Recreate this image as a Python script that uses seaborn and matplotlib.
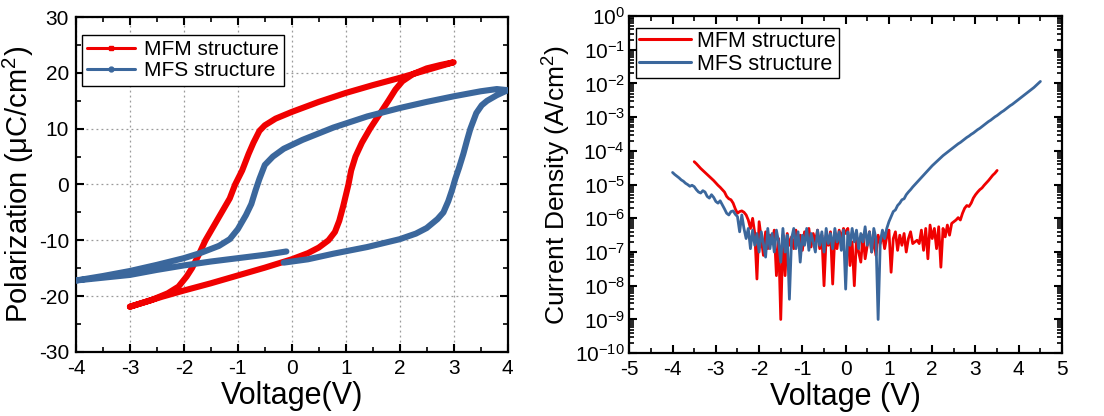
import numpy as np
import pandas as pd
import matplotlib
matplotlib.use("Agg")
import matplotlib.pyplot as plt
from matplotlib.lines import Line2D
from matplotlib.ticker import MultipleLocator, LogLocator, NullFormatter, LogFormatterMathtext
import seaborn as sns

# ---------------- data: P-E hysteresis loops ----------------
mfm_v = [-3.0, -2.7, -2.4, -2.0, -1.5, -1.0, -0.5, 0.0, 0.3, 0.5, 0.68, 0.8, 0.88, 0.95, 1.0, 1.05,
         1.1, 1.18, 1.3, 1.45, 1.62, 1.79, 1.92, 2.05, 2.25, 2.5, 2.75, 3.0,
         2.5, 2.0, 1.5, 1.0, 0.5, 0.0, -0.3, -0.5, -0.6, -0.71, -0.8, -0.92, -1.05, -1.15, -1.3,
         -1.45, -1.6, -1.72, -1.85, -1.95, -2.1, -2.3, -2.6, -3.0]
mfm_p = [-21.9, -21.0, -20.1, -19.0, -17.7, -16.3, -14.9, -13.4, -12.3, -11.3, -10.0, -8.5, -6.5, -4.0, -2.0, 0.0,
         2.5, 5.0, 7.5, 10.0, 12.5, 15.0, 17.0, 18.5, 19.8, 20.8, 21.4, 21.9,
         20.5, 19.1, 17.8, 16.4, 14.8, 13.0, 11.8, 10.6, 9.6, 7.5, 5.5, 2.5, 0.0, -2.5, -5.0,
         -7.5, -10.0, -12.5, -15.0, -16.5, -18.3, -19.5, -20.7, -21.9]

mfs_v = [-0.15, 0.3, 0.77, 1.4, 2.0, 2.3, 2.5, 2.7, 2.81, 2.9, 2.97, 3.03, 3.1, 3.18, 3.25, 3.31,
         3.42, 3.52, 3.62, 3.8, 4.0,
         3.8, 3.5, 3.0, 2.5, 2.0, 1.4, 0.77, 0.2, -0.15, -0.35, -0.5, -0.6, -0.67, -0.75, -0.85,
         -1.0, -1.15, -1.35, -1.7, -2.0, -2.5, -3.0, -3.5, -4.0,
         -3.5, -3.0, -2.5, -2.0, -1.5, -1.0, -0.5, -0.1]
mfs_p = [-14.0, -13.4, -12.4, -11.2, -9.8, -8.8, -7.8, -6.2, -5.0, -3.0, -1.0, 1.0, 3.0, 5.5, 8.0, 10.0,
         12.8, 14.2, 15.0, 16.0, 16.9,
         17.1, 16.7, 15.8, 14.8, 13.7, 12.2, 10.2, 8.0, 6.4, 5.0, 3.5, 1.0, -1.0, -3.5, -5.5,
         -8.0, -9.8, -11.0, -12.3, -13.2, -14.4, -15.5, -16.4, -17.2,
         -16.7, -16.2, -15.3, -14.5, -13.8, -13.2, -12.6, -12.0]

# ---------------- data: J-V leakage (log10 of A/cm^2), 0.05 V steps ----------------
mfm_jv_start, mfm_jv_stop = -3.5, 3.5
mfm_logj = [-4.32, -4.38, -4.45, -4.52, -4.58, -4.64, -4.70, -4.76, -4.82, -4.88,
            -4.95, -5.02, -5.08, -5.15, -5.22, -5.35, -5.42, -5.45, -5.55, -5.72,
            -5.85, -5.80, -5.78, -5.82, -5.90, -6.05, -6.30, -6.00, -6.45, -7.80,
            -6.10, -6.60, -7.10, -6.40, -6.90, -6.50, -6.75, -6.35, -7.70, -6.60,
            -9.00, -6.50, -7.70, -6.45, -6.80, -6.55, -6.90, -6.35, -6.70, -6.50,
            -6.95, -6.40, -6.60, -6.30, -6.85, -6.45, -6.70, -6.35, -6.90, -6.50,
            -8.00, -6.55, -6.80, -6.40, -7.95, -6.50, -6.90, -6.35, -6.60, -6.30,
            -6.45, -6.30, -7.40, -6.70, -8.00, -6.60, -7.00, -7.30, -6.50, -7.20,
            -6.80, -6.40, -7.00, -6.60, -7.10, -6.50, -6.75, -6.45, -6.90, -6.55,
            -6.35, -7.60, -6.60, -6.40, -6.95, -6.50, -6.80, -6.45, -7.00, -6.60,
            -6.40, -6.75, -6.70, -6.65, -6.75, -6.35, -6.95, -6.30, -7.20, -6.20,
            -6.60, -6.30, -6.90, -6.25, -7.45, -6.30, -6.55, -6.20, -6.50, -6.15,
            -6.10, -6.05, -5.98, -6.05, -5.85, -5.70, -5.62, -5.65, -5.55, -5.40,
            -5.30, -5.22, -5.15, -5.10, -5.02, -4.95, -4.88, -4.80, -4.72, -4.66,
            -4.58]

mfs_jv_start, mfs_jv_stop = -4.0, 4.5
mfs_logj = [-4.64, -4.70, -4.75, -4.80, -4.86, -4.90, -4.96, -5.00, -5.05, -5.02,
            -5.06, -5.15, -5.22, -5.25, -5.18, -5.22, -5.35, -5.40, -5.30, -5.38,
            -5.50, -5.55, -5.48, -5.60, -5.72, -5.85, -5.90, -5.80, -5.78, -5.88,
            -5.95,
            -6.40, -5.90, -6.30, -6.60, -6.30, -6.90, -6.35, -6.80, -6.45, -7.00,
            -6.40, -6.75, -7.15, -6.30, -6.90, -6.45, -7.00, -6.35, -6.70, -7.30,
            -6.30, -7.00, -6.50, -8.40, -6.60, -6.30, -6.90, -6.40, -7.30, -6.50,
            -6.80, -6.30, -6.95, -6.45, -6.70, -7.00, -6.35, -6.80, -6.40, -7.00,
            -6.30, -6.75, -6.45, -6.90, -6.30, -6.70, -6.40, -6.95, -6.35, -8.10,
            -6.40, -6.80, -6.30, -6.70, -6.35, -6.90, -6.45, -6.70, -6.25, -6.80,
            -6.40, -7.00, -6.30, -6.60, -9.00, -6.70, -6.35, -6.60, -6.30,
            -6.10, -5.95, -5.80, -5.75, -5.62, -5.55, -5.45, -5.42, -5.30, -5.22,
            -5.15, -5.07, -5.00, -4.93, -4.86, -4.79, -4.72, -4.65, -4.58, -4.51,
            -4.44, -4.38, -4.32, -4.26, -4.20, -4.14, -4.09, -4.04, -3.99, -3.94,
            -3.89, -3.84, -3.79, -3.75, -3.70, -3.65, -3.60, -3.56, -3.51, -3.47,
            -3.42, -3.37, -3.33, -3.28, -3.23, -3.18, -3.13, -3.09, -3.04, -2.99,
            -2.95, -2.90, -2.85, -2.81, -2.76, -2.71, -2.66, -2.62, -2.57, -2.52,
            -2.47, -2.42, -2.37, -2.32, -2.27, -2.22, -2.17, -2.12, -2.06, -2.00,
            -1.94]

labels = ["MFM structure", "MFS structure"]
RED = "#F00000"
BLUE = "#3B679C"

# ---------------- style ----------------
sns.set_style("ticks")
plt.rcParams["font.family"] = ["Liberation Sans", "DejaVu Sans"]
plt.rcParams["mathtext.fontset"] = "custom"
plt.rcParams["mathtext.rm"] = "Liberation Sans"
plt.rcParams["mathtext.it"] = "Liberation Sans:italic"
plt.rcParams["mathtext.default"] = "regular"
plt.rcParams["axes.unicode_minus"] = False
plt.rcParams["text.color"] = "black"
plt.rcParams["axes.labelcolor"] = "black"
plt.rcParams["xtick.color"] = "black"
plt.rcParams["ytick.color"] = "black"

fig = plt.figure(figsize=(11.04, 4.16), dpi=100)
ax1 = fig.add_axes([0.0688, 0.154, 0.391, 0.805])
ax2 = fig.add_axes([0.570, 0.151, 0.392, 0.8105])

def style_axes(ax):
    for s in ax.spines.values():
        s.set_linewidth(1.6)
        s.set_color("black")
    ax.tick_params(which="major", direction="in", length=6, width=1.5, top=True, right=True,
                   labelsize=15, colors="black", pad=5)
    ax.tick_params(which="minor", direction="in", length=3.5, width=1.2, top=True, right=True)

# ---------------- left: hysteresis ----------------
df_mfm = pd.DataFrame({"V": mfm_v, "P": mfm_p})
df_mfs = pd.DataFrame({"V": mfs_v, "P": mfs_p})
sns.lineplot(data=df_mfm, x="V", y="P", sort=False, estimator=None, ax=ax1, color=RED,
             lw=4.4, solid_capstyle="round", solid_joinstyle="round", zorder=3)
sns.lineplot(data=df_mfs, x="V", y="P", sort=False, estimator=None, ax=ax1, color=BLUE,
             lw=4.4, solid_capstyle="round", solid_joinstyle="round", zorder=4)
ax1.set_xlim(-4, 4)
ax1.set_ylim(-30, 30)
ax1.xaxis.set_major_locator(MultipleLocator(1))
ax1.xaxis.set_minor_locator(MultipleLocator(0.5))
ax1.yaxis.set_major_locator(MultipleLocator(10))
ax1.yaxis.set_minor_locator(MultipleLocator(5))
ax1.grid(True, which="major", linestyle=(0, (1.5, 2.5)), color="#9a9a9a", linewidth=0.9)
ax1.set_axisbelow(True)
style_axes(ax1)
ax1.set_xlabel("Voltage(V)", fontsize=22, labelpad=2)
ax1.set_ylabel("Polarization (\u03bcC/cm$^2$)", fontsize=21, labelpad=2)
h1 = [Line2D([], [], color=RED, lw=2.2, marker="s", markersize=3.5),
      Line2D([], [], color=BLUE, lw=2.2, marker="o", markersize=3.5)]
leg1 = ax1.legend(h1, labels, loc="upper left", bbox_to_anchor=(0.0, 0.965), fontsize=15,
                  frameon=True, fancybox=False, edgecolor="black", framealpha=1,
                  handlelength=2.3, handletextpad=0.4, borderpad=0.25, labelspacing=0.1,
                  borderaxespad=0.3)
leg1.get_frame().set_linewidth(1.0)

# ---------------- right: leakage current ----------------
v_mfm = np.linspace(mfm_jv_start, mfm_jv_stop, len(mfm_logj))
v_mfs = np.linspace(mfs_jv_start, mfs_jv_stop, len(mfs_logj))
df_j1 = pd.DataFrame({"V": v_mfm, "J": 10.0 ** np.array(mfm_logj)})
df_j2 = pd.DataFrame({"V": v_mfs, "J": 10.0 ** np.array(mfs_logj)})
ax2.set_yscale("log")
sns.lineplot(data=df_j1, x="V", y="J", sort=False, estimator=None, ax=ax2, color=RED,
             lw=2.0, zorder=3)
sns.lineplot(data=df_j2, x="V", y="J", sort=False, estimator=None, ax=ax2, color=BLUE,
             lw=2.0, zorder=4)
ax2.set_xlim(-5, 5)
ax2.set_ylim(1e-10, 1e0)
ax2.xaxis.set_major_locator(MultipleLocator(1))
ax2.xaxis.set_minor_locator(MultipleLocator(0.5))
ax2.yaxis.set_major_locator(LogLocator(base=10, numticks=20))
ax2.yaxis.set_minor_locator(LogLocator(base=10, subs=np.arange(2, 10), numticks=20))
ax2.yaxis.set_minor_formatter(NullFormatter())
ax2.yaxis.set_major_formatter(LogFormatterMathtext())
style_axes(ax2)
ax2.tick_params(axis="y", which="major", labelsize=15, pad=3)
ax2.set_xlabel("Voltage (V)", fontsize=22, labelpad=2)
ax2.set_ylabel("Current Density (A/cm$^2$)", fontsize=19, labelpad=2)
h2 = [Line2D([], [], color=RED, lw=2.2), Line2D([], [], color=BLUE, lw=2.2)]
leg2 = ax2.legend(h2, labels, loc="upper left", bbox_to_anchor=(0.0, 0.985), fontsize=15.5,
                  frameon=True, fancybox=False, edgecolor="black", framealpha=1,
                  handlelength=2.4, handletextpad=0.3, borderpad=0.15, labelspacing=0.1,
                  borderaxespad=0.3)
leg2.get_frame().set_linewidth(1.0)

fig.savefig("out.png", dpi=100)
